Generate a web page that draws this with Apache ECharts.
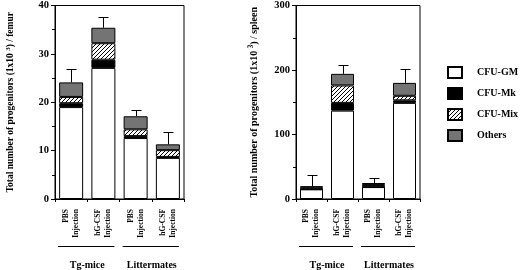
<!DOCTYPE html>
<html><head><meta charset="utf-8">
<script src="https://cdn.jsdelivr.net/npm/echarts@6/dist/echarts.min.js"></script>
<style>html,body{margin:0;padding:0;background:#fff}#c{width:520px;height:270px}</style>
</head><body><div id="c"></div>
<script>
// ---- data ----
const categories = ['PBS\nInjection', 'hG-CSF\nInjection', 'PBS\nInjection', 'hG-CSF\nInjection'];
const groups = ['Tg-mice', 'Littermates'];
const seriesNames = ['CFU-GM', 'CFU-Mk', 'CFU-Mix', 'Others'];
// femur (x10^3)
const femurGM = [19.0, 27.1, 12.6, 8.5];
const femurMk = [0.8, 1.7, 0.4, 0.2];
const femurMix = [1.3, 3.4, 1.4, 1.4];
const femurOthers = [3.0, 3.2, 2.7, 1.2];
const femurErrTop = [26.9, 37.6, 18.3, 13.8];
// spleen (x10^3)
const spleenGM = [15, 137, 18.5, 149];
const spleenMk = [0.3, 12, 0.3, 4];
const spleenMix = [3, 27, 3, 7];
const spleenOthers = [1.2, 18, 3, 20];
const spleenErrTop = [37, 208, 33, 201];
const femurAxis = { min: 0, max: 40, interval: 10 };
const spleenAxis = { min: 0, max: 300, interval: 100 };

// ---- styles ----
const FF = '"Liberation Serif", "Times New Roman", serif';
function hatch() {
  const c = document.createElement('canvas');
  c.width = 4; c.height = 4;
  const ctx = c.getContext('2d');
  ctx.fillStyle = '#fff'; ctx.fillRect(0, 0, 4, 4);
  ctx.fillStyle = '#000';
  for (let i = 0; i < 4; i++) ctx.fillRect(i, 3 - i, 1, 1);
  return { image: c, repeat: 'repeat' };
}
const colors = ['#ffffff', '#000000', hatch(), '#747474'];

const chart = echarts.init(document.getElementById('c'), null, { renderer: 'canvas' });

function yAxis(gi, ax, name, fs, gap) {
  return {
    gridIndex: gi, type: 'value', min: ax.min, max: ax.max, interval: ax.interval,
    axisLine: { show: true, lineStyle: { color: '#000', width: 1 } },
    axisTick: { show: true, length: 4, lineStyle: { color: '#000' } },
    minorTick: { show: true, splitNumber: 2, length: 3, lineStyle: { color: '#000' } },
    splitLine: { show: false },
    axisLabel: { fontFamily: FF, fontWeight: 'bold', fontSize: 10.5, color: '#000', margin: 6 },
    name: name, nameLocation: 'middle', nameGap: gap,
    nameTextStyle: {
      fontFamily: FF, fontWeight: 'bold', fontSize: fs, color: '#000',
      rich: { sup: { fontFamily: FF, fontWeight: 'bold', fontSize: fs * 0.72, color: '#000', verticalAlign: 'top', padding: [0, 0, 5, 0] } }
    }
  };
}
function xCat(gi) {
  return {
    gridIndex: gi, type: 'category', data: categories, position: 'bottom',
    axisLine: { show: true, lineStyle: { color: '#000', width: 1 } },
    axisTick: { show: true, length: 3, lineStyle: { color: '#000' } },
    axisLabel: { interval: 0, rotate: 90, fontFamily: FF, fontWeight: 'bold', fontSize: 7.5, lineHeight: 10, color: '#000', margin: 10 }
  };
}
function xGroup(gi) {
  return {
    gridIndex: gi, type: 'category', data: groups, position: 'bottom',
    axisLine: { show: false }, axisTick: { show: false },
    axisLabel: { interval: 0, fontFamily: FF, fontWeight: 'bold', fontSize: 10, color: '#000', margin: 61 }
  };
}
function bars(xi, yi, stack, arrs, bw) {
  return arrs.map((d, k) => ({
    type: 'bar', name: seriesNames[k], stack: stack, xAxisIndex: xi, yAxisIndex: yi,
    data: d, barWidth: bw,
    itemStyle: { color: colors[k], borderColor: '#000', borderWidth: 1 },
    emphasis: { disabled: true }, animation: false
  }));
}
function errs(xi, yi, arrs, tops) {
  const data = tops.map((t, i) => [i, arrs.reduce((s, a) => s + a[i], 0), t]);
  return {
    type: 'custom', xAxisIndex: xi, yAxisIndex: yi, data: data, encode: { x: 0, y: 2 }, z: 10,
    silent: true, animation: false,
    renderItem: function (params, api) {
      const i = api.value(0);
      const b = api.coord([i, api.value(1)]);
      const t = api.coord([i, api.value(2)]);
      const x = Math.round(b[0]) + 0.5, ty = Math.round(t[1]) + 0.5;
      return {
        type: 'group', children: [
          { type: 'line', shape: { x1: x, y1: b[1], x2: x, y2: ty }, style: { stroke: '#000', lineWidth: 1 } },
          { type: 'line', shape: { x1: x - 5, y1: ty, x2: x + 5, y2: ty }, style: { stroke: '#000', lineWidth: 1 } }
        ]
      };
    }
  };
}

const femurArrs = [femurGM, femurMk, femurMix, femurOthers];
const spleenArrs = [spleenGM, spleenMk, spleenMix, spleenOthers];

chart.setOption({
  animation: false,
  backgroundColor: '#fff',
  grid: [
    { left: 55, top: 4, width: 129, height: 197, show: true, borderColor: '#000', borderWidth: 1 },
    { left: 296, top: 3, width: 124, height: 196, show: true, borderColor: '#000', borderWidth: 1 }
  ],
  xAxis: [xCat(0), xGroup(0), xCat(1), xGroup(1)],
  yAxis: [
    yAxis(0, femurAxis, 'Total number of progenitors (1x10 {sup|3}) / femur', 9.5, 38),
    yAxis(1, spleenAxis, 'Total number of progenitors (1x10 {sup|3}) / spleen', 10, 36)
  ],
  legend: {
    data: seriesNames, orient: 'vertical', left: 447, top: 66, padding: 0,
    itemWidth: 14, itemHeight: 11, itemGap: 8, icon: 'rect', selectedMode: false,
    textStyle: { fontFamily: FF, fontWeight: 'bold', fontSize: 10, color: '#000', padding: [0, 0, 0, 10] }
  },
  series: [].concat(
    bars(0, 0, 'f', femurArrs, 24), [errs(0, 0, femurArrs, femurErrTop)],
    bars(2, 1, 's', spleenArrs, 23), [errs(2, 1, spleenArrs, spleenErrTop)]
  )
});

// group underline segments placed from the category axis scale
const lines = [];
[[0, 0, 24], [2, 1, 23]].forEach(([xi, yi, bw]) => {
  const y0 = chart.convertToPixel({ yAxisIndex: yi }, 0);
  for (let g = 0; g < 2; g++) {
    const a = chart.convertToPixel({ xAxisIndex: xi }, 2 * g);
    const b = chart.convertToPixel({ xAxisIndex: xi }, 2 * g + 1);
    const y = Math.round(y0 + 47) + 0.5;
    lines.push({ type: 'line', shape: { x1: a - bw / 2 - 1, y1: y, x2: b + bw / 2 - 1, y2: y }, style: { stroke: '#000', lineWidth: 1.2 } });
  }
});
chart.setOption({ graphic: lines });
</script>
</body></html>
